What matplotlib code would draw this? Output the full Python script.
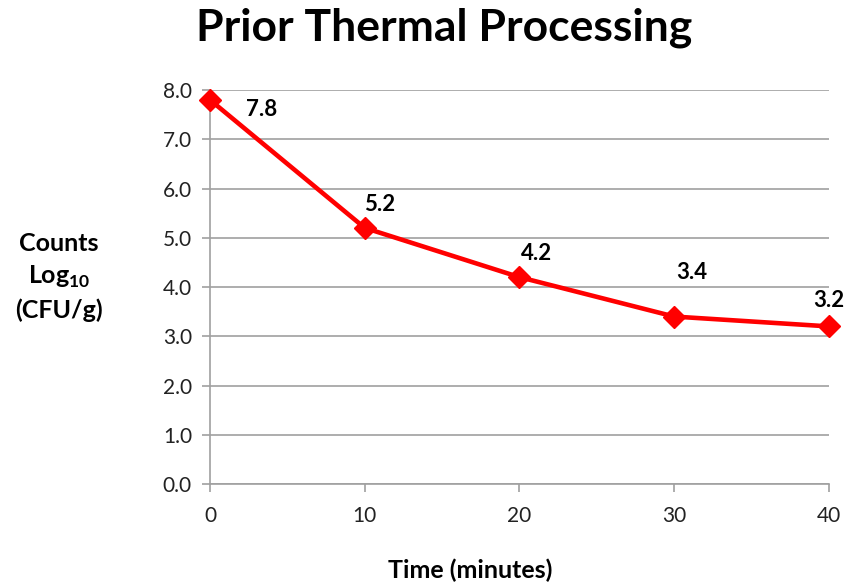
import matplotlib.pyplot as plt

time_min = [0, 10, 20, 30, 40]
counts = [7.8, 5.2, 4.2, 3.4, 3.2]
label_offsets = [(37, -7), (11, 17), (12, 17), (13, 32), (0, 19)]

plt.rcParams['font.family'] = ['Lato', 'DejaVu Sans']

fig = plt.figure(figsize=(8.45, 5.84), dpi=100)
ax = fig.add_axes([0.2485, 0.1712, 0.7325, 0.6747])

ax.plot(time_min, counts, color='#ff0000', lw=3.3, marker='D', ms=11, zorder=3, clip_on=False)
for x, y, off in zip(time_min, counts, label_offsets):
    ax.annotate('%.1f' % y, (x, y), xytext=off, textcoords='offset points',
                ha='center', va='center', fontsize=16, fontweight='bold')

ax.set_xlim(0, 40)
ax.set_ylim(0, 8)
ax.set_xticks(time_min)
ax.set_yticks([i * 1.0 for i in range(9)])
ax.set_yticklabels(['%.1f' % (i * 1.0) for i in range(9)])
ax.grid(axis='y', color='#a0a0a0', lw=1.2)
ax.set_axisbelow(True)
for s in ['top', 'right']:
    ax.spines[s].set_visible(False)
for s in ['left', 'bottom']:
    ax.spines[s].set_color('#a0a0a0')
    ax.spines[s].set_linewidth(1.2)
ax.tick_params(axis='both', colors='#a0a0a0', labelcolor='#222222', labelsize=15,
               length=6, width=1.2, direction='out')
ax.tick_params(axis='x', pad=10)
ax.tick_params(axis='y', pad=7)

fig.text(0.526, 0.952, 'Prior Thermal Processing', ha='center', va='center',
         fontsize=32, fontweight='bold')
fig.text(0.556, 0.024, 'Time (minutes)', ha='center', va='center',
         fontsize=18, fontweight='bold')
fig.text(0.07, 0.526, 'Counts\nLog$_{\\mathregular{10}}$\n(CFU/g)', ha='center', va='center',
         fontsize=18, fontweight='bold', linespacing=1.45)

fig.savefig('out.png', dpi=100)
